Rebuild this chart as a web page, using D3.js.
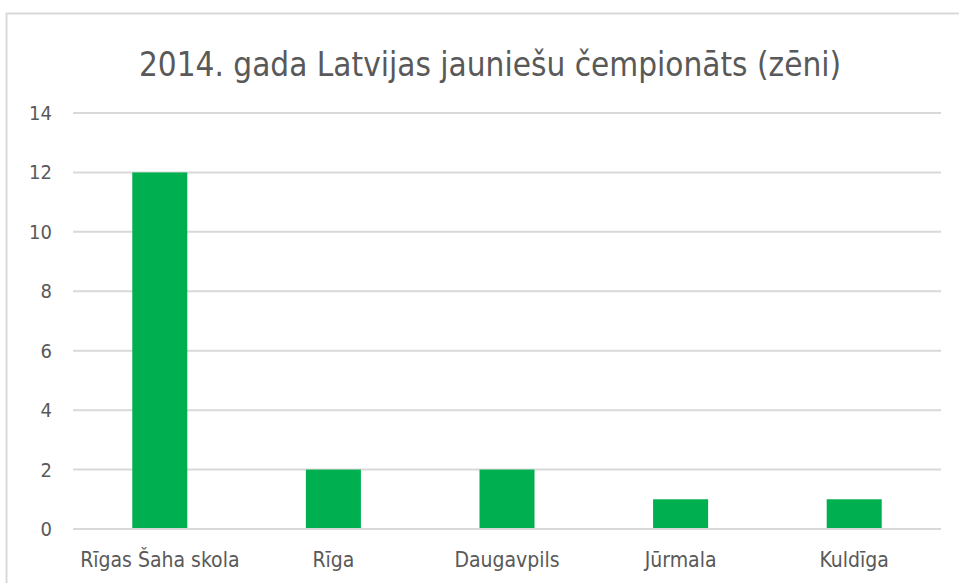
<!DOCTYPE html>
<html>
<head>
<meta charset="utf-8">
<script src="https://cdn.jsdelivr.net/npm/d3@7"></script>
<style>
  body { margin: 0; background: #fff; }
  text { font-family: "Liberation Sans Narrow", "DejaVu Sans Condensed", sans-serif; fill: #595959; }
</style>
</head>
<body>
<div id="chart"></div>
<script>
const title = '2014. gada Latvijas jauniešu čempionāts (zēni)'
const categories = ['Rīgas Šaha skola', 'Rīga', 'Daugavpils', 'Jūrmala', 'Kuldīga']
const values = [12, 2, 2, 1, 1]
const yTicks = [0, 2, 4, 6, 8, 10, 12, 14]

const width = 959
const height = 583
const margin = {top: 113, right: 18, bottom: 54, left: 73}

const svg = d3.select('#chart').append('svg')
    .attr('width', width)
    .attr('height', height)

// chart border (the picture is cropped on the right and bottom)
svg.append('path')
    .attr('d', `M6.5,${height} V13.5 H${width}`)
    .attr('fill', 'none')
    .attr('stroke', '#d9d9d9')
    .attr('stroke-width', 2)

const x = d3.scaleBand()
    .domain(categories)
    .range([margin.left, width - margin.right])

const y = d3.scaleLinear()
    .domain([0, 14])
    .range([height - margin.bottom, margin.top])

// gridlines
svg.append('g')
    .selectAll('line')
    .data(yTicks)
    .enter().append('line')
    .attr('x1', margin.left)
    .attr('x2', width - margin.right)
    .attr('y1', d => y(d))
    .attr('y2', d => y(d))
    .attr('stroke', '#d9d9d9')
    .attr('stroke-width', 2)

// y labels
svg.append('g')
    .selectAll('text')
    .data(yTicks)
    .enter().append('text')
    .attr('x', 52)
    .attr('y', d => y(d))
    .attr('dy', '0.35em')
    .attr('text-anchor', 'end')
    .style('font-size', '20px')
    .text(d => d)

const barW = x.bandwidth() * 0.317

svg.append('g')
    .selectAll('rect')
    .data(values)
    .enter().append('rect')
    .attr('x', (d, i) => x(categories[i]) + x.bandwidth() / 2 - barW / 2)
    .attr('y', d => y(d))
    .attr('width', barW)
    .attr('height', d => y(0) - y(d) - 1)
    .attr('fill', '#00b050')

// category labels
svg.append('g')
    .selectAll('text')
    .data(categories)
    .enter().append('text')
    .attr('x', d => x(d) + x.bandwidth() / 2)
    .attr('y', 567)
    .attr('text-anchor', 'middle')
    .style('font-size', '21px')
    .text(d => d)

svg.append('text')
    .attr('x', 490)
    .attr('y', 76)
    .attr('text-anchor', 'middle')
    .style('font-size', '33px')
    .text(title)
</script>
</body>
</html>
